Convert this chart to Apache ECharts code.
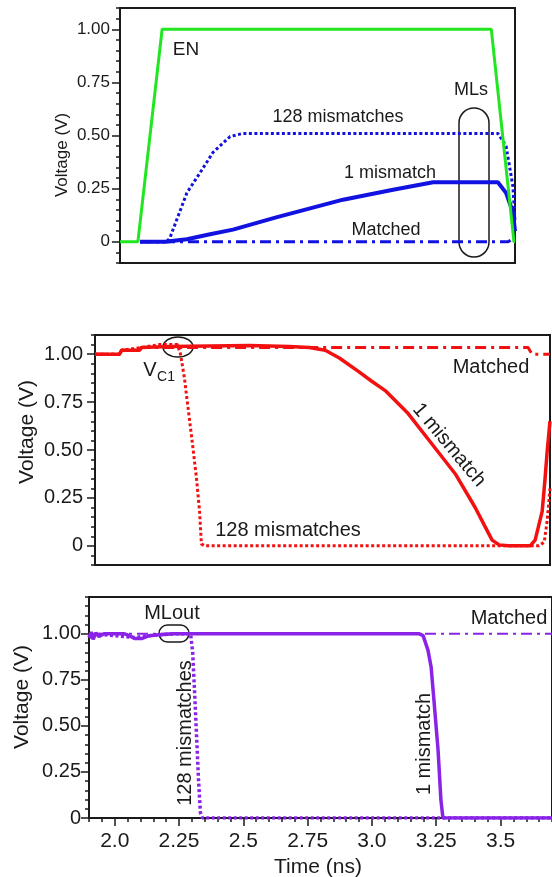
<!DOCTYPE html>
<html>
<head>
<meta charset="utf-8">
<script src="https://cdn.jsdelivr.net/npm/echarts@6/dist/echarts.min.js"></script>
<style>
  html, body { margin: 0; padding: 0; background: #fff; }
  #chart { width: 552px; height: 877px; }
</style>
</head>
<body>
<div id="chart"></div>
<script>
// ---- data (time in ns, voltage in V) ----
// top panel: enable signal and match lines
var enLine = [[0, 0], [0.068, 0], [0.16, 1.0], [1.41, 1.0], [1.496, 0.0], [1.5, 0.0]];
var ml128 = [[0.076, 0], [0.178, 0], [0.19, 0.02], [0.254, 0.23], [0.304, 0.325], [0.353, 0.42],
    [0.418, 0.495], [0.467, 0.51], [1.435, 0.51], [1.466, 0.45], [1.48, 0.35], [1.492, 0.26], [1.5, 0.1]];
var ml1 = [[0.076, 0], [0.171, 0], [0.254, 0.012], [0.342, 0.035], [0.429, 0.057], [0.593, 0.115],
    [0.847, 0.198], [1.037, 0.245], [1.189, 0.28], [1.435, 0.28], [1.466, 0.23], [1.492, 0.14], [1.5, 0.05]];
var mlMatched = [[0.076, 0], [1.474, 0], [1.492, 0.015], [1.5, 0.01]];

// middle panel: VC1
var vc1Mis1 = [[1.925, 1.0], [2.019, 1.0], [2.027, 1.02], [2.096, 1.02], [2.103, 1.035], [2.211, 1.04],
    [2.517, 1.045], [2.670, 1.04], [2.747, 1.035], [2.808, 1.02], [2.862, 0.98], [2.935, 0.91],
    [2.985, 0.86], [3.038, 0.81], [3.126, 0.69], [3.218, 0.53], [3.307, 0.375], [3.383, 0.2],
    [3.421, 0.1], [3.448, 0.03], [3.475, 0.005], [3.51, 0], [3.594, 0], [3.613, 0.03],
    [3.640, 0.18], [3.651, 0.35], [3.659, 0.49], [3.67, 0.65]];
var vc1Matched = [[1.925, 1.0], [2.019, 1.0], [2.027, 1.02], [2.096, 1.02], [2.103, 1.035],
    [3.586, 1.035], [3.601, 1.0], [3.67, 1.0]];
var vc1Mis128 = [[1.925, 1.0], [2.019, 1.0], [2.027, 1.02], [2.103, 1.035], [2.172, 1.05],
    [2.241, 1.05], [2.253, 1.0], [2.268, 0.875], [2.280, 0.74], [2.299, 0.53], [2.314, 0.355],
    [2.326, 0.18], [2.333, 0.01], [2.345, 0], [3.628, 0], [3.648, 0.02], [3.659, 0.13], [3.67, 0.3]];

// bottom panel: MLout
var outMis1 = [[1.900, 0.98], [1.908, 1.01], [1.916, 0.97], [1.927, 1.005], [1.939, 0.985],
    [1.958, 1.0], [2.038, 1.0], [2.057, 0.99], [2.077, 0.975], [2.107, 0.975], [2.134, 0.99],
    [2.172, 0.995], [2.230, 1.0], [3.184, 1.0], [3.199, 0.99], [3.218, 0.91], [3.230, 0.82],
    [3.241, 0.64], [3.257, 0.37], [3.268, 0.1], [3.276, 0], [3.70, 0]];
var outMis128 = [[1.900, 0.98], [1.927, 1.0], [2.077, 0.98], [2.134, 0.99], [2.230, 1.0],
    [2.295, 1.0], [2.303, 0.9], [2.310, 0.7], [2.318, 0.45], [2.326, 0.2], [2.333, 0.03],
    [2.341, 0], [3.70, 0]];
var outMatched = [[1.900, 1.0], [3.70, 1.0]];

// tick labels
var yTickValues = [0, 0.25, 0.5, 0.75, 1.0];
var xTickValues = [2.0, 2.25, 2.5, 2.75, 3.0, 3.25, 3.5];
var xTickLabels = ['2.0', '2.25', '2.5', '2.75', '3.0', '3.25', '3.5'];

var FONT = "'Liberation Sans', Arial, Helvetica, sans-serif";
var INK = '#1a1a1a';
var GREEN = '#22e622', BLUE = '#1212e0', RED = '#f21010', PURPLE = '#8a22e8';
var DOT = [3, 2.5], DASHDOT = [11, 5, 3, 5];

// minor tick positions every 0.05 between min and max
function minorSteps(min, max) {
    var out = [];
    for (var k = Math.ceil(min / 0.05 - 1e-6); k * 0.05 <= max + 1e-6; k++) {
        out.push(Math.round(k * 5) / 100);
    }
    return out;
}

function yPair(gridIndex, min, max, fontSize, margin) {
    return [{
        type: 'value', gridIndex: gridIndex, position: 'left', offset: 0,
        min: min, max: max, interval: 0.05,
        axisLine: { show: true, onZero: false, lineStyle: { color: INK, width: 2 } },
        axisTick: { show: true, length: 4, customValues: minorSteps(min, max), lineStyle: { color: INK, width: 1.5 } },
        axisLabel: { show: false }, splitLine: { show: false }
    }, {
        type: 'value', gridIndex: gridIndex, position: 'left', offset: 0,
        min: min, max: max,
        axisLine: { show: false },
        axisTick: { show: true, length: 8, customValues: yTickValues, lineStyle: { color: INK, width: 1.5 } },
        axisLabel: {
            show: true, customValues: yTickValues, margin: margin,
            fontSize: fontSize, fontFamily: FONT, color: INK,
            formatter: function (v) { return v === 0 ? '0' : v.toFixed(2); }
        },
        splitLine: { show: false }
    }];
}

function plainX(gridIndex, min, max) {
    return {
        type: 'value', gridIndex: gridIndex, min: min, max: max,
        axisLine: { show: true, onZero: false, lineStyle: { color: INK, width: 2 } },
        axisTick: { show: false }, axisLabel: { show: false }, splitLine: { show: false }
    };
}

function line(data, xi, yi, color, width, dash) {
    return {
        type: 'line', data: data, xAxisIndex: xi, yAxisIndex: yi,
        showSymbol: false, symbol: 'none', animation: false, silent: true,
        lineStyle: { color: color, width: width, type: dash || 'solid', cap: 'butt' }
    };
}

function label(text, x, y, size, rot) {
    return {
        type: 'text', x: x, y: y, rotation: rot || 0, silent: true,
        style: {
            text: text, font: size + 'px ' + FONT, fill: INK,
            align: 'center', verticalAlign: 'middle',
            textAlign: 'center', textVerticalAlign: 'middle'
        }
    };
}

var gridStyle = { show: true, borderColor: INK, borderWidth: 2, backgroundColor: 'transparent' };

var yAxes = [].concat(yPair(0, -0.1, 1.1, 17, 10), yPair(1, -0.1, 1.1, 20, 12), yPair(2, 0, 1.2, 20, 8));

var option = {
    backgroundColor: '#fff',
    animation: false,
    grid: [
        Object.assign({ left: 120, top: 8, width: 395, height: 255 }, gridStyle),
        Object.assign({ left: 95, top: 335, width: 455, height: 230 }, gridStyle),
        Object.assign({ left: 89, top: 597, width: 470, height: 221 }, gridStyle)
    ],
    xAxis: [
        plainX(0, 0, 1.5),
        plainX(1, 1.925, 3.67),
        {
            type: 'value', gridIndex: 2, min: 1.9, max: 3.70, interval: 0.05,
            axisLine: { show: true, onZero: false, lineStyle: { color: INK, width: 2 } },
            axisTick: { show: true, length: 4, customValues: minorSteps(1.9, 3.70), lineStyle: { color: INK, width: 1.5 } },
            axisLabel: { show: false }, splitLine: { show: false }
        },
        {
            type: 'value', gridIndex: 2, min: 1.9, max: 3.70, position: 'bottom', offset: 0,
            axisLine: { show: false },
            axisTick: { show: true, length: 8, customValues: xTickValues, lineStyle: { color: INK, width: 1.5 } },
            axisLabel: {
                show: true, customValues: xTickValues, margin: 13,
                fontSize: 21, fontFamily: FONT, color: INK,
                formatter: function (v) {
                    for (var i = 0; i < xTickValues.length; i++) {
                        if (Math.abs(xTickValues[i] - v) < 1e-6) return xTickLabels[i];
                    }
                    return '';
                }
            },
            splitLine: { show: false }
        }
    ],
    yAxis: yAxes,
    series: [
        line(mlMatched, 0, 0, BLUE, 3, DASHDOT),
        line(ml1, 0, 0, BLUE, 4),
        line(ml128, 0, 0, BLUE, 3, DOT),
        line(enLine, 0, 0, GREEN, 3),

        line(vc1Matched, 1, 2, RED, 3, DASHDOT),
        line(vc1Mis128, 1, 2, RED, 3, DOT),
        line(vc1Mis1, 1, 2, RED, 3.5),

        line(outMatched, 2, 4, PURPLE, 2, DASHDOT),
        line(outMis128, 2, 4, PURPLE, 3.5, DOT),
        line(outMis1, 2, 4, PURPLE, 3.5)
    ],
    graphic: [
        // top panel
        label('EN', 186, 50, 19),
        label('128 mismatches', 338, 117, 18),
        label('1 mismatch', 390, 173, 18),
        label('Matched', 386, 230, 18),
        label('MLs', 471, 90, 18),
        { type: 'rect', silent: true, shape: { x: 459, y: 108, width: 30, height: 149, r: 15 },
          style: { fill: 'none', stroke: INK, lineWidth: 1.5 } },
        label('Voltage (V)', 62, 155, 17, Math.PI / 2),

        // middle panel
        label('V', 150, 370, 20),
        label('C1', 166, 377, 14),
        { type: 'ellipse', silent: true, shape: { cx: 178, cy: 347, rx: 15, ry: 10 },
          style: { fill: 'none', stroke: INK, lineWidth: 1.5 } },
        label('Matched', 491, 367, 20),
        label('1 mismatch', 449, 445, 20, -50 * Math.PI / 180),
        label('128 mismatches', 288, 530, 20),
        label('Voltage (V)', 27, 432, 21, Math.PI / 2),

        // bottom panel
        label('MLout', 172, 613, 20),
        { type: 'rect', silent: true, shape: { x: 159, y: 625, width: 30, height: 17, r: 8.5 },
          style: { fill: 'none', stroke: INK, lineWidth: 1.5 } },
        label('Matched', 509, 618, 20),
        label('128 mismatches', 185, 733, 20, Math.PI / 2),
        label('1 mismatch', 424, 744, 20, Math.PI / 2),
        label('Voltage (V)', 22, 697, 21, Math.PI / 2),
        label('Time (ns)', 318, 867, 21)
    ]
};

var chart = echarts.init(document.getElementById('chart'), null, { renderer: 'canvas' });
chart.setOption(option);
</script>
</body>
</html>
